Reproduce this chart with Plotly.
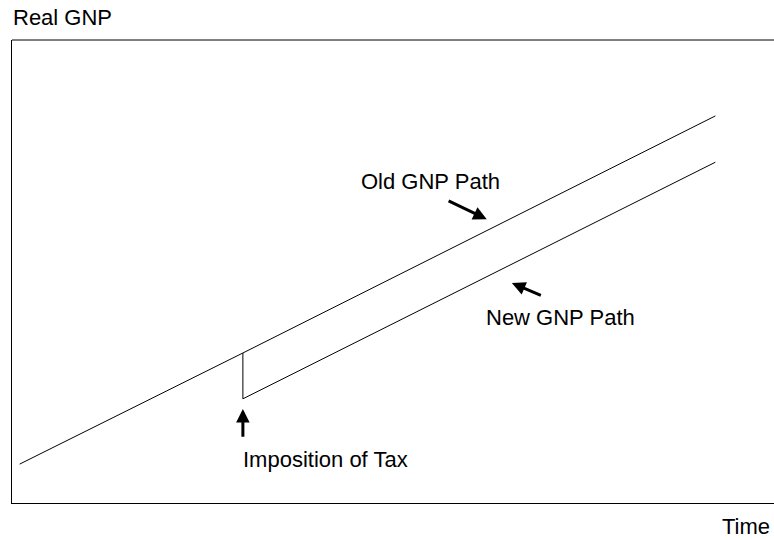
import plotly.graph_objects as go

# Data (time units, GNP index)
old_time = [1.0, 30.3, 92.3]
old_gnp = [8.4, 32.4, 83.6]
new_time = [30.3, 30.3, 92.3]
new_gnp = [32.4, 22.5, 73.6]

labels = ["Old GNP Path", "New GNP Path", "Imposition of Tax"]
label_x = [45.5, 61.9, 30.05]
label_y = [69.4, 40.1, 9.35]

# arrows: (tip_x, tip_y, tail_x, tail_y)
arrows = [
    (62.3, 61.3, 57.1, 65.4),
    (65.6, 47.5, 69.6, 44.7),
    (30.3, 20.3, 30.3, 14.0),
]

FONT = "Liberation Sans, Arial, sans-serif"
FS = 22

fig = go.Figure()
fig.add_trace(go.Scatter(x=old_time, y=old_gnp, mode="lines",
                         line=dict(color="black", width=1), showlegend=False,
                         hoverinfo="skip"))
fig.add_trace(go.Scatter(x=new_time, y=new_gnp, mode="lines",
                         line=dict(color="black", width=1), showlegend=False,
                         hoverinfo="skip"))

annotations = []
for t, x, y in zip(labels, label_x, label_y):
    annotations.append(dict(x=x, y=y, xref="x", yref="y", text=t, showarrow=False,
                            xanchor="left", yanchor="middle",
                            font=dict(family=FONT, size=FS, color="black")))
for tx, ty, ax, ay in arrows:
    annotations.append(dict(x=tx, y=ty, ax=ax, ay=ay, xref="x", yref="y",
                            axref="x", ayref="y", text="", showarrow=True,
                            arrowhead=2, arrowsize=0.9, arrowwidth=3,
                            arrowcolor="black"))
annotations.append(dict(x=-0.001, y=1.0486, xref="paper", yref="paper", text="Real GNP",
                        showarrow=False, xanchor="left", yanchor="middle",
                        font=dict(family=FONT, size=FS, color="black")))
annotations.append(dict(x=0.987, y=-0.0518, xref="paper", yref="paper", text="Time",
                        showarrow=False, xanchor="right", yanchor="middle",
                        font=dict(family=FONT, size=FS, color="black")))

fig.update_layout(
    width=782, height=540,
    margin=dict(l=12, r=0, t=40, b=37),
    paper_bgcolor="white", plot_bgcolor="white",
    xaxis=dict(range=[0, 101.05], showgrid=False, zeroline=False, showticklabels=False,
               ticks="", showline=True, linecolor="black", linewidth=1, fixedrange=True),
    yaxis=dict(range=[0, 100], showgrid=False, zeroline=False, showticklabels=False,
               ticks="", showline=True, linecolor="black", linewidth=1, fixedrange=True),
    annotations=annotations,
    shapes=[dict(type="line", xref="paper", yref="paper", x0=0, x1=1, y0=1, y1=1,
                 line=dict(color="black", width=1))],
)

fig.write_html(
    "out.html",
    config={"displayModeBar": False},
    post_script="document.body.style.margin='0';document.body.style.overflow='hidden';",
)
